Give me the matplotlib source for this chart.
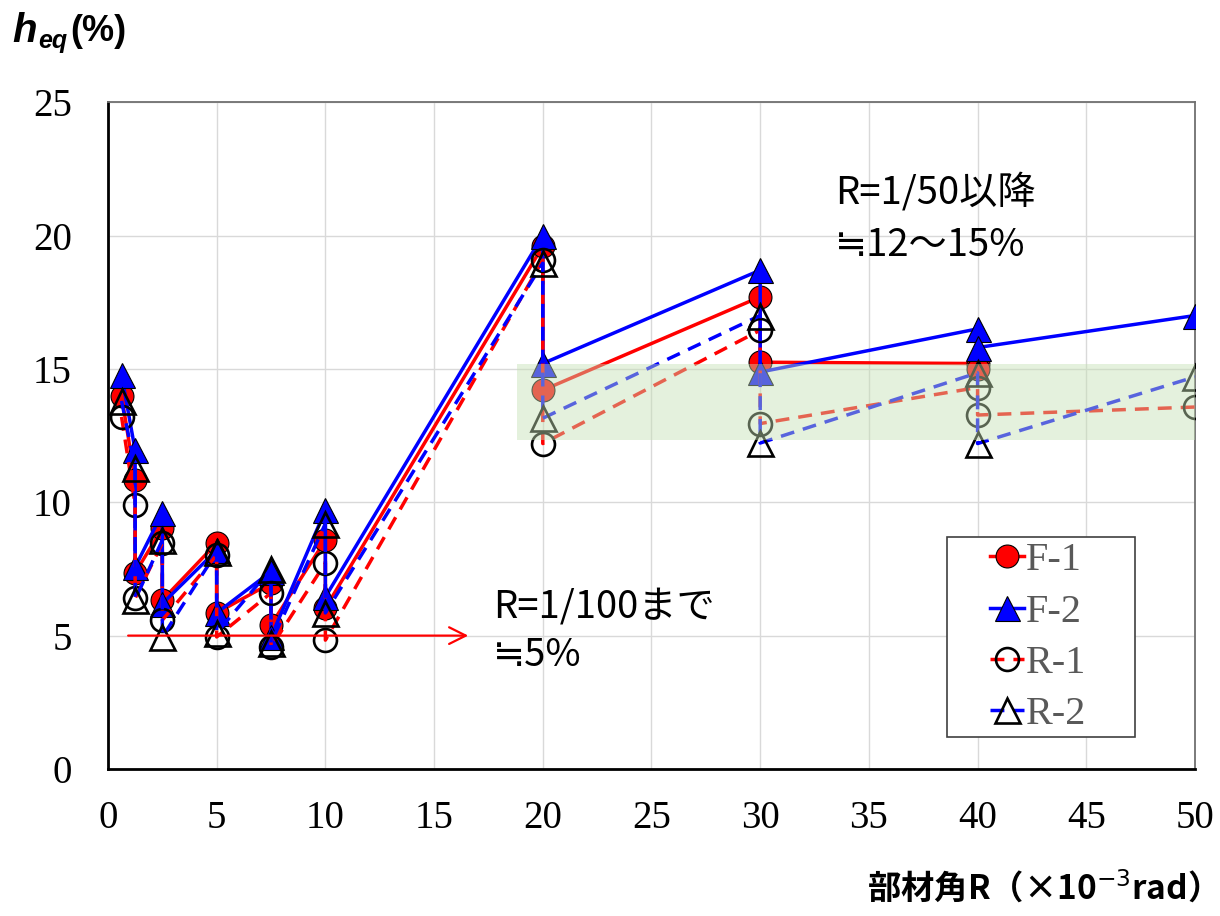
import matplotlib
matplotlib.use('Agg')
import matplotlib.pyplot as plt
from matplotlib.patches import Rectangle

# 部材角 R (x10^-3 rad) : 各振幅 2サイクル目まで
x_f1 = [0.625, 1.25, 1.25, 2.5, 2.5, 5, 5, 7.5, 7.5, 10, 10, 20, 20, 30, 30, 40, 40]
x_all = [0.625, 1.25, 1.25, 2.5, 2.5, 5, 5, 7.5, 7.5, 10, 10, 20, 20, 30, 30, 40, 40, 50]

f1 = [14.0, 10.83, 7.35, 9.03, 6.33, 8.47, 5.85, 6.97, 5.4, 8.58, 6.03,
      19.6, 14.2, 17.7, 15.25, 15.2, 15.0]
f2 = [14.77, 11.95, 7.57, 9.6, 6.2, 8.2, 5.85, 7.4, 4.95, 9.71, 6.45,
      20.0, 15.2, 18.7, 14.88, 16.5, 15.8, 17.0]
r1 = [13.2, 9.9, 6.4, 8.47, 5.58, 8.02, 4.95, 6.6, 4.57, 7.72, 4.83,
      19.08, 12.2, 16.45, 12.95, 14.3, 13.27, 13.57]
r2 = [13.8, 11.28, 6.35, 8.58, 4.95, 8.13, 5.1, 7.5, 4.72, 9.2, 5.85,
      18.96, 13.15, 17.0, 12.22, 14.85, 12.2, 14.7]

labels = ['F-1', 'F-2', 'R-1', 'R-2']
band = (18.8, 50, 12.33, 15.2)   # x0, x1, y0, y1

plt.rcParams['font.family'] = ['Liberation Serif']

fig = plt.figure(figsize=(12.2, 9.16), dpi=100)
ax = fig.add_axes([0.0885, 0.1605, 0.891, 0.728])

ms = 16.5
lw = 2.5
ax.plot(x_f1, f1, '-', color='#ff0000', lw=lw, marker='o', ms=ms,
        mfc='#ff0000', mec='black', mew=0.8, label=labels[0], zorder=3)
ax.plot(x_all, f2, '-', color='#0000ff', lw=lw, marker='^', ms=ms + 1.5,
        mfc='#0000ff', mec='black', mew=0.8, label=labels[1], zorder=3)
ax.plot(x_all, r1, '--', color='#ff0000', lw=lw, dashes=(4, 2.6), marker='o',
        ms=ms, mfc='none', mec='black', mew=1.9, label=labels[2], zorder=4)
ax.plot(x_all, r2, '--', color='#0000ff', lw=lw, dashes=(4, 2.6), marker='^',
        ms=ms + 1.5, mfc='none', mec='black', mew=1.9, label=labels[3], zorder=4)

ax.add_patch(Rectangle((band[0], band[2]), band[1] - band[0], band[3] - band[2],
                       facecolor='#c5e0b4', alpha=0.45, edgecolor='none', zorder=5))

ax.annotate('', xy=(16.7, 5), xytext=(0.8, 5),
            arrowprops=dict(arrowstyle='->', color='#ff0000', lw=1.6,
                            mutation_scale=30), zorder=6)

jp = ['Noto Sans CJK JP', 'DejaVu Sans']
ax.text(17.7, 6.07, 'R=1/100まで', fontsize=27.5, family=jp, va='center', ha='left')
ax.text(17.7, 4.27, '≒5%', fontsize=27.5, family=jp, va='center', ha='left')
ax.text(33.45, 21.59, 'R=1/50以降', fontsize=27.5, family=jp, va='center', ha='left')
ax.text(33.45, 19.64, '≒12～15%', fontsize=27.5, family=jp, va='center', ha='left')

ax.set_xlim(0, 50)
ax.set_ylim(0, 25)
ax.set_xticks(range(0, 51, 5))
ax.set_yticks(range(0, 26, 5))
ax.tick_params(length=0, labelsize=28, pad=22)
ax.tick_params(axis='y', pad=26)
ax.grid(True, color='#d9d9d9', lw=1.0, zorder=0)
ax.set_axisbelow(True)

for s in ['left', 'bottom']:
    ax.spines[s].set_color('black')
    ax.spines[s].set_linewidth(2.0)
for s in ['top', 'right']:
    ax.spines[s].set_color('#707070')
    ax.spines[s].set_linewidth(1.3)

# legend frame drawn separately (wide side padding like the original)
ax.add_patch(Rectangle((0.772, 0.048), 0.173, 0.300, transform=ax.transAxes,
                       facecolor='white', edgecolor='#404040', lw=1.2, zorder=6))
leg = ax.legend(loc='upper left', bbox_to_anchor=(0.811, 0.34), fontsize=29,
                frameon=False, handlelength=0.85, handletextpad=0.05,
                borderpad=0, borderaxespad=0, labelspacing=0.35)
leg.set_zorder(7)
for t in leg.get_texts():
    t.set_color('#595959')

sans = ['Liberation Sans']
fig.text(12 / 1220, 1 - 42 / 916, 'h', fontsize=29, family=sans,
         fontweight='bold', style='italic', va='baseline', ha='left')
fig.text(38 / 1220, 1 - 48 / 916, 'eq', fontsize=18, family=sans,
         fontweight='bold', style='italic', va='baseline', ha='left')
fig.text(70 / 1220, 1 - 41 / 916, '(%)', fontsize=26, family=sans,
         fontweight='bold', va='baseline', ha='left')

fig.text(1200 / 1220, 1 - 888 / 916, '部材角R（×10$^{-3}$rad）', fontsize=24,
         family=jp, fontweight='bold', ha='right', va='center')

fig.savefig('out.png', dpi=100)
